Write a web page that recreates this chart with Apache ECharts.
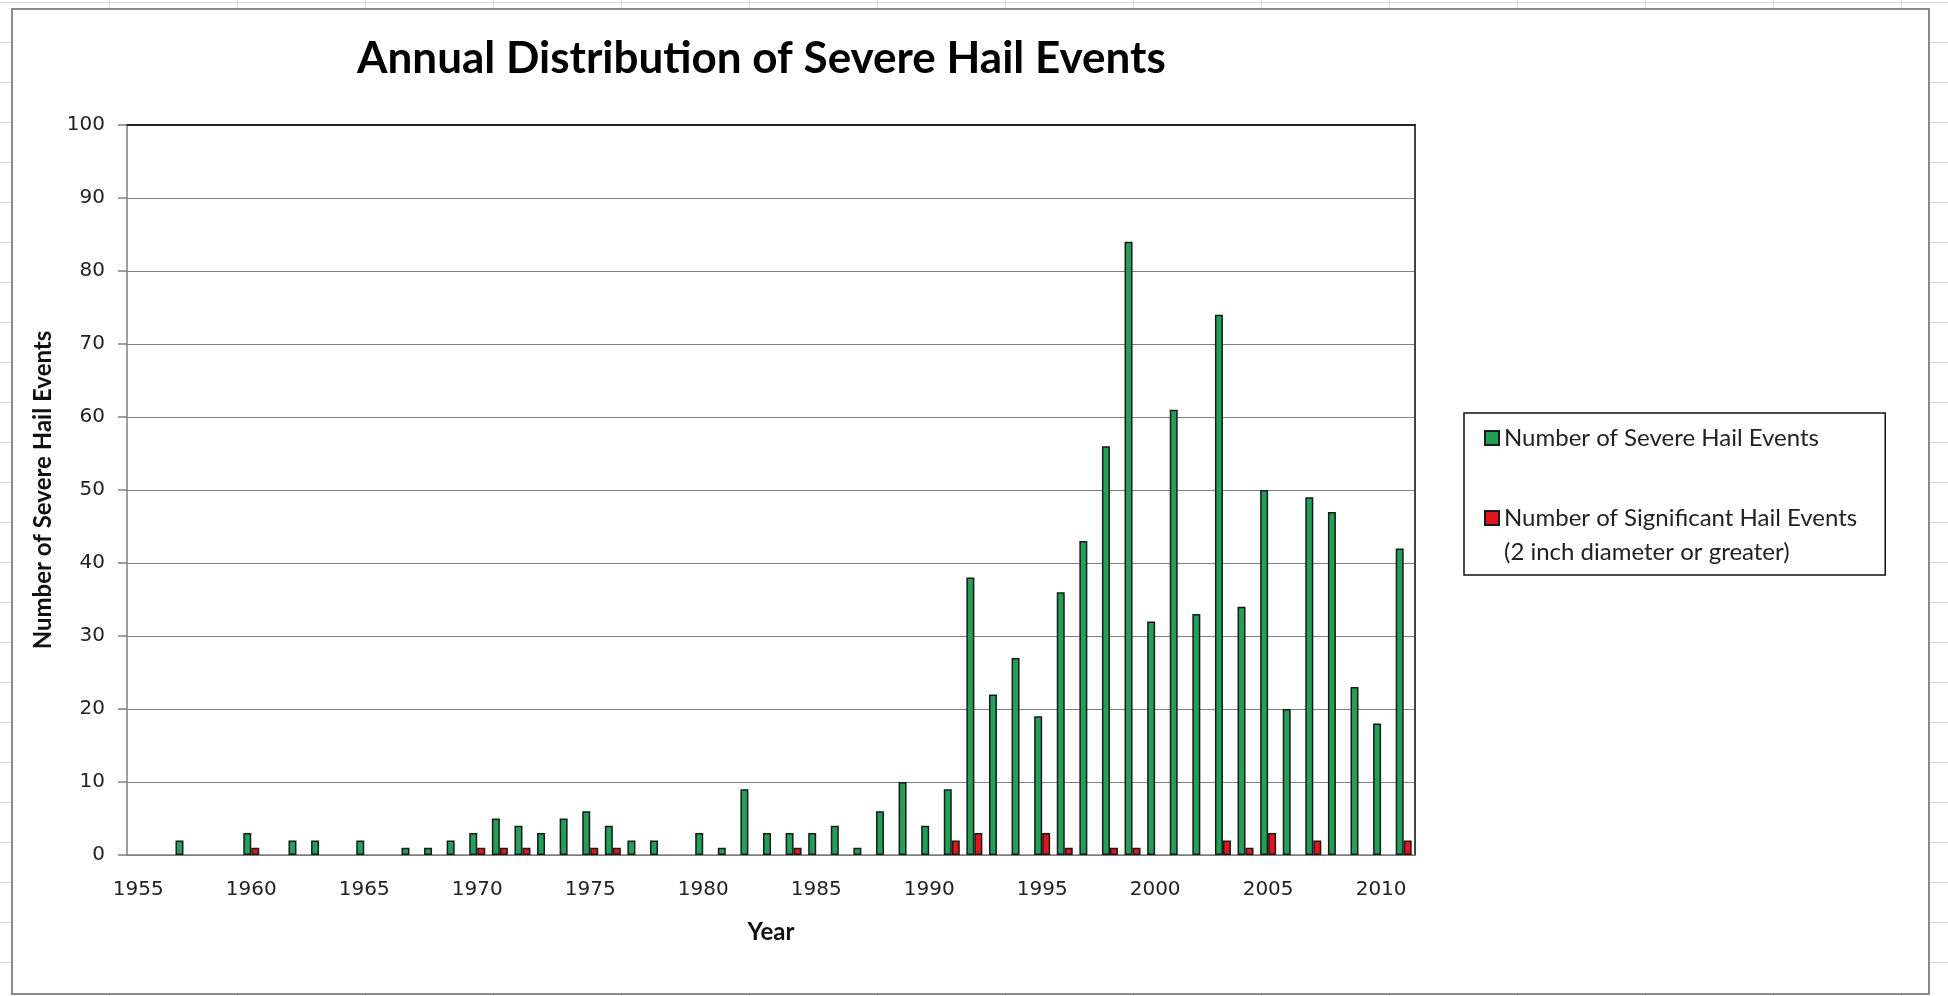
<!DOCTYPE html>
<html>
<head>
<meta charset="utf-8">
<title>Annual Distribution of Severe Hail Events</title>
<script src="https://cdn.jsdelivr.net/npm/echarts/dist/echarts.min.js"></script>
<style>
  html, body {
    margin: 0;
    width: 1948px;
    height: 996px;
    overflow: hidden;
  }
  body {
    background-color: #fff;
    background-image: linear-gradient(to right, #d6d6d6 1px, transparent 1px),
                      linear-gradient(to bottom, #d6d6d6 1px, transparent 1px);
    background-size: 128px 40px;
    background-position: 109px 2px;
  }
  /* excel chart area */
  #frame {
    position: absolute;
    left: 11px;
    top: 8px;
    width: 1919px;
    height: 987px;
    box-sizing: border-box;
    border: 2px solid #8a8a8a;
    background: #fff;
  }
  #chart {
    position: absolute;
    left: 0;
    top: 0;
    width: 1948px;
    height: 996px;
  }
</style>
</head>
<body>
<div id="frame"></div>
<div id="chart"></div>
<script>
  var years = [];
  for (var y = 1955; y <= 2011; y++) years.push(String(y));

  // Number of Severe Hail Events, 1955 - 2011
  var severe = [
    0, 0, 2, 0, 0, 3, 0, 2, 2, 0,
    2, 0, 1, 1, 2, 3, 5, 4, 3, 5,
    6, 4, 2, 2, 0, 3, 1, 9, 3, 3,
    3, 4, 1, 6, 10, 4, 9, 38, 22, 27,
    19, 36, 43, 56, 84, 32, 61, 33, 74, 34,
    50, 20, 49, 47, 23, 18, 42
  ];

  // Number of Significant Hail Events (2 inch diameter or greater)
  var significant = [
    0, 0, 0, 0, 0, 1, 0, 0, 0, 0,
    0, 0, 0, 0, 0, 1, 1, 1, 0, 0,
    1, 1, 0, 0, 0, 0, 0, 0, 0, 1,
    0, 0, 0, 0, 0, 0, 2, 3, 0, 0,
    3, 1, 0, 1, 1, 0, 0, 0, 2, 1,
    3, 0, 2, 0, 0, 0, 2
  ];

  var yTicks = { min: 0, max: 100, step: 10 };

  var severeName = 'Number of Severe Hail Events';
  var sigName = 'Number of Significant Hail Events';

  var gray = '#7f7f7f';
  var labelFont = 'DejaVu Sans';
  var textFont = 'Lato';

  var chart = echarts.init(document.getElementById('chart'));
  chart.setOption({
    backgroundColor: 'transparent',
    animation: false,
    title: {
      text: 'Annual Distribution of Severe Hail Events',
      left: 352,
      top: 32,
      textStyle: {
        fontFamily: textFont,
        fontWeight: 'bold',
        fontSize: 44,
        color: '#000'
      }
    },
    legend: {
      orient: 'vertical',
      left: 1464,
      top: 413,
      padding: [8, 28, 6, 20],
      itemGap: 12,
      itemWidth: 14,
      itemHeight: 14,
      icon: 'rect',
      borderColor: '#111',
      borderWidth: 1.5,
      data: [severeName, sigName],
      formatter: function (name) {
        // blank first line keeps the swatch next to the first text line
        if (name === sigName) return '\n' + name + '\n(2 inch diameter or greater)';
        return name;
      },
      textStyle: {
        fontFamily: textFont,
        fontSize: 24,
        lineHeight: 34,
        color: '#222'
      }
    },
    grid: {
      left: 127,
      right: 533,
      top: 125,
      bottom: 141
    },
    xAxis: [
      {
        type: 'category',
        data: years,
        name: 'Year',
        nameLocation: 'middle',
        nameGap: 65,
        nameTextStyle: {
          fontFamily: textFont,
          fontWeight: 'bold',
          fontSize: 24,
          color: '#111'
        },
        axisLine: { lineStyle: { color: gray, width: 1.5 } },
        axisTick: {
          interval: 0,
          length: 8,
          lineStyle: { color: gray, width: 1.5 }
        },
        axisLabel: {
          interval: 4,
          margin: 25,
          fontFamily: labelFont,
          fontSize: 20,
          color: '#222'
        }
      },
      {
        // top edge of the plot area
        type: 'category',
        data: years,
        position: 'top',
        axisLine: { onZero: false, lineStyle: { color: '#222', width: 2 } },
        axisTick: { show: false },
        axisLabel: { show: false }
      }
    ],
    yAxis: [
      {
        type: 'value',
        min: yTicks.min,
        max: yTicks.max,
        interval: yTicks.step,
        name: 'Number of Severe Hail Events',
        nameLocation: 'middle',
        nameGap: 72,
        nameTextStyle: {
          fontFamily: textFont,
          fontWeight: 'bold',
          fontSize: 24,
          color: '#111'
        },
        axisLine: { show: true, lineStyle: { color: gray, width: 1.5 } },
        axisTick: { show: true, length: 9, lineStyle: { color: gray, width: 1.5 } },
        axisLabel: {
          margin: 22,
          fontFamily: labelFont,
          fontSize: 20,
          color: '#222'
        },
        splitLine: {
          showMaxLine: false,
          lineStyle: { color: gray, width: 1 }
        }
      },
      {
        // right edge of the plot area
        type: 'value',
        position: 'right',
        min: yTicks.min,
        max: yTicks.max,
        axisLine: { show: true, onZero: false, lineStyle: { color: '#444', width: 2 } },
        axisTick: { show: false },
        axisLabel: { show: false },
        splitLine: { show: false }
      }
    ],
    series: [
      {
        name: severeName,
        type: 'bar',
        barWidth: 8,
        barGap: '0%',
        data: severe.map(function (v) { return v === 0 ? null : v }),
        itemStyle: {
          color: '#22a058',
          borderColor: '#1a1a1a',
          borderWidth: 1.5
        }
      },
      {
        name: sigName,
        type: 'bar',
        barWidth: 8,
        barGap: '0%',
        data: significant.map(function (v) { return v === 0 ? null : v }),
        itemStyle: {
          color: '#e0161c',
          borderColor: '#1a1a1a',
          borderWidth: 1.5
        }
      }
    ]
  });
</script>
</body>
</html>
